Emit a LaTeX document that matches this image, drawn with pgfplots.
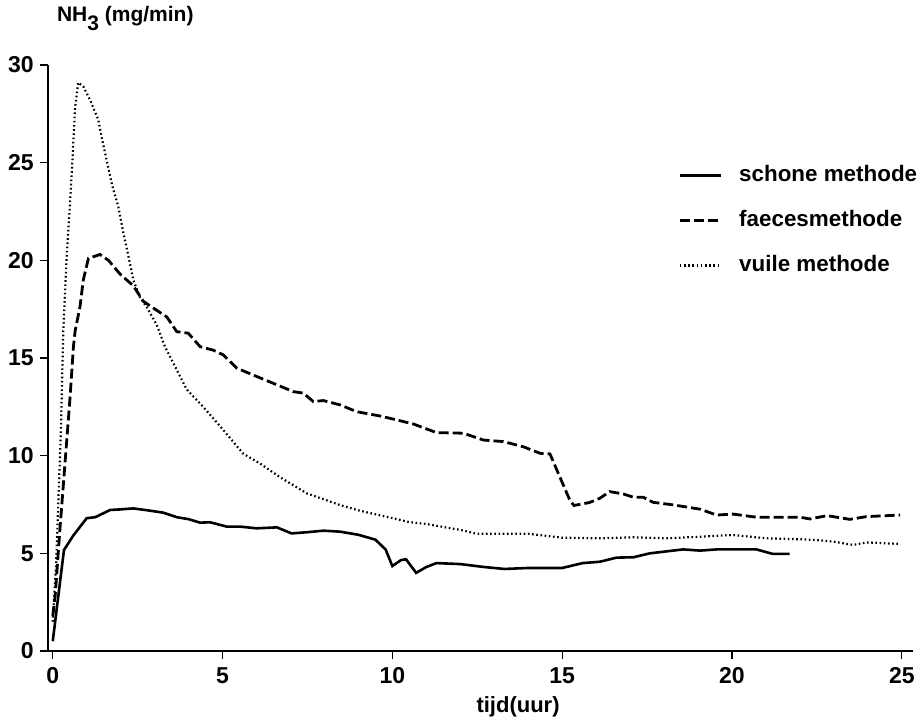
\documentclass[border=0pt]{standalone}
\usepackage{fontspec}
\setmainfont{Liberation Sans}
\usepackage{pgfplots}
\pgfplotsset{compat=1.18}

\pgfplotstableread{
x y
0 0.5
0.33 5.17
0.6 5.9
1.0 6.8
1.25 6.85
1.69 7.22
2.0 7.25
2.37 7.3
2.8 7.2
3.26 7.08
3.65 6.85
4.0 6.75
4.34 6.57
4.63 6.59
5.12 6.37
5.51 6.37
6.0 6.28
6.6 6.33
7.03 6.02
7.48 6.08
7.97 6.16
8.46 6.11
9.0 5.95
9.5 5.7
9.8 5.2
10.0 4.35
10.25 4.65
10.4 4.7
10.7 4.0
11.0 4.3
11.3 4.5
12.0 4.45
12.7 4.3
13.3 4.2
14.0 4.25
15.0 4.25
15.6 4.5
16.11 4.57
16.6 4.78
17.1 4.8
17.58 5.0
18.56 5.2
19.06 5.14
19.55 5.2
20.72 5.2
21.2 4.97
21.7 4.97
}\schoon

\pgfplotstableread{
x y
0 1.8
0.07 2.8
0.21 6.2
0.36 9.6
0.51 13.0
0.61 15.6
0.66 16.4
0.8 17.6
0.9 19.0
1.05 20.1
1.39 20.3
1.64 20.0
1.98 19.3
2.37 18.7
2.67 17.9
3.01 17.5
3.36 17.1
3.65 16.35
3.99 16.27
4.34 15.58
4.73 15.4
5.02 15.16
5.42 14.48
5.9 14.13
6.5 13.7
7.08 13.28
7.38 13.2
7.67 12.77
7.97 12.82
8.46 12.6
8.95 12.25
9.64 12.03
10.13 11.83
10.62 11.62
11.3 11.18
12.09 11.15
12.68 10.8
13.27 10.72
13.85 10.46
14.35 10.12
14.64 10.09
15.23 7.7
15.35 7.45
15.8 7.6
16.11 7.82
16.4 8.16
16.8 8.04
17.1 7.87
17.39 7.87
17.68 7.61
18.27 7.48
19.06 7.26
19.55 6.96
20.03 7.01
20.72 6.85
22.0 6.85
22.3 6.76
22.8 6.93
23.47 6.74
23.96 6.88
24.95 6.96
}\faeces

\pgfplotstableread{
x y
0 1.5
0.1 4.5
0.17 7.9
0.24 11.3
0.31 16.4
0.41 20.2
0.49 22.4
0.56 24.46
0.61 26.2
0.66 27.87
0.75 29.1
0.9 28.9
1.1 28.2
1.34 27.2
1.44 26.3
1.59 25.1
1.74 23.9
1.93 22.75
2.08 21.4
2.23 20.2
2.37 19.0
2.57 18.1
2.77 17.6
3.06 16.7
3.3 15.6
3.94 13.4
4.43 12.5
4.93 11.5
5.61 10.1
6.1 9.6
6.69 8.9
7.48 8.07
8.46 7.47
9.0 7.2
10.0 6.8
10.5 6.6
11.0 6.5
12.0 6.2
12.5 6.0
13.0 6.0
14.0 6.0
15.0 5.8
16.11 5.77
17.1 5.82
18.1 5.77
19.06 5.85
20.03 5.94
21.0 5.77
22.0 5.72
22.5 5.68
22.98 5.6
23.57 5.43
23.96 5.56
24.95 5.48
}\vuil

\begin{document}
\begin{tikzpicture}
\begin{axis}[
  at={(0,0)}, anchor=south west,
  scale only axis,
  width=432.5pt, height=293pt,
  xmin=-0.14, xmax=25.33,
  ymin=0, ymax=30,
  xtick={0,5,...,25},
  ytick={0,5,...,30},
  axis lines=left,
  axis line style={line width=1pt, -},
  tick align=outside,
  major tick length=4pt,
  tick style={line width=0.6pt, black},
  /pgf/number format/assume math mode=true,
  tick label style={font=\fontsize{11.5}{13}\selectfont\bfseries},
  yticklabel style={inner sep=0pt, xshift=-3pt},
  xticklabel style={inner sep=0pt, yshift=-4pt},
  every axis y label/.style={at={(rel axis cs:0,1)}, anchor=base west,
    xshift=1pt, yshift=21.5pt},
  every axis x label/.style={at={(rel axis cs:0.5434,0)}, anchor=base,
    yshift=-30.5pt},
  ylabel={\fontsize{10.5}{12}\selectfont\bfseries NH\raisebox{-4.5pt}{3} (mg/min)},
  xlabel={\fontsize{11}{13}\selectfont\bfseries tijd(uur)},
  legend style={at={(rel axis cs:0.7283,0.830)}, anchor=north west,
    draw=none, fill=none, row sep=12pt, inner sep=0pt,
    font=\fontsize{11.2}{13}\selectfont\bfseries,
    nodes={text height=8pt, text depth=2.5pt, inner sep=0pt, anchor=west}},
  legend cell align=left,
  legend image code/.code={\draw[#1] (0pt,0pt) -- (20.5pt,0pt); \path (29pt,0pt);},
]
\addplot[black, line width=1.3pt] table {\schoon};
\addlegendentry{schone methode}
\addplot[black, line width=1.4pt, dash pattern=on 5pt off 2pt] table {\faeces};
\addlegendentry{faecesmethode}
\addplot[black, line width=1.1pt, dash pattern=on 0.8pt off 1.3pt] table {\vuil};
\addlegendentry{vuile methode}
\end{axis}
\pgfresetboundingbox
\path[use as bounding box] (-24pt,-33pt) rectangle (438pt,325.5pt);
\end{tikzpicture}
\end{document}
